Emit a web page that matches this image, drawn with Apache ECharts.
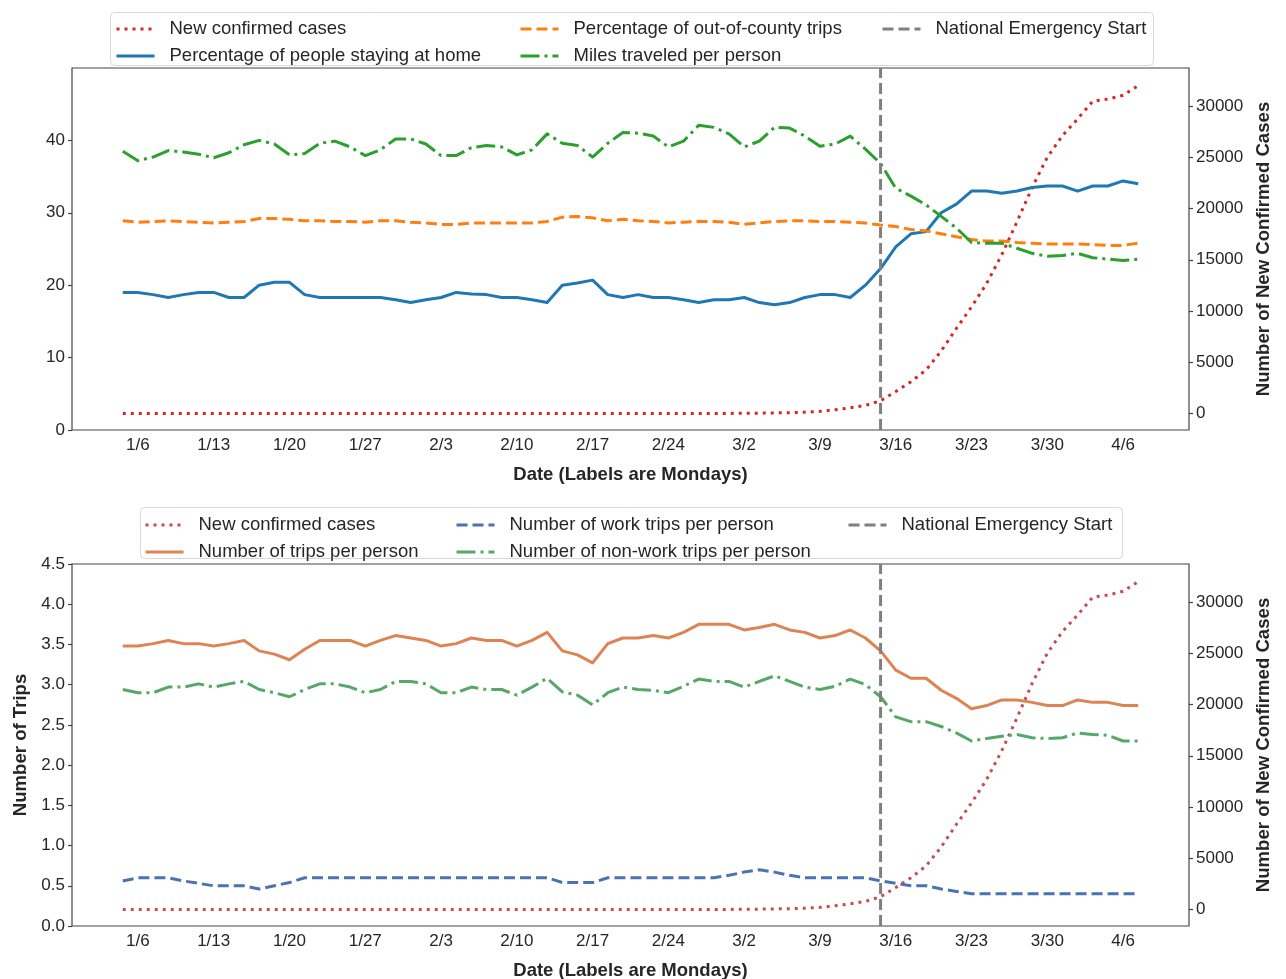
<!DOCTYPE html>
<html>
<head>
<meta charset="utf-8">
<script src="https://cdn.jsdelivr.net/npm/echarts@6/dist/echarts.min.js"></script>
<style>
html,body{margin:0;padding:0;background:#fff;}
#c1{position:absolute;left:0;top:0;width:1286px;height:490px;}
#c2{position:absolute;left:0;top:490px;width:1286px;height:489px;}
</style>
</head>
<body>
<div id="c1"></div>
<div id="c2"></div>
<script>
// ---- Data (weekdays, 1/3/2020 - 4/7/2020) ----
const dates = ['1/3','1/6','1/7','1/8','1/9','1/10','1/13','1/14','1/15','1/16','1/17','1/20','1/21','1/22','1/23','1/24','1/27','1/28','1/29','1/30','1/31','2/3','2/4','2/5','2/6','2/7','2/10','2/11','2/12','2/13','2/14','2/17','2/18','2/19','2/20','2/21','2/24','2/25','2/26','2/27','2/28','3/2','3/3','3/4','3/5','3/6','3/9','3/10','3/11','3/12','3/13','3/16','3/17','3/18','3/19','3/20','3/23','3/24','3/25','3/26','3/27','3/30','3/31','4/1','4/2','4/3','4/6','4/7'];
const mondayLabels = ['1/6','1/13','1/20','1/27','2/3','2/10','2/17','2/24','3/2','3/9','3/16','3/23','3/30','4/6'];
const emergencyDate = '3/13';

const newCases = [0,0,0,0,0,0,0,0,0,0, 0,0,0,0,0,0,0,0,0,0, 0,0,0,0,0,0,0,0,0,0, 0,0,0,0,0,0,0,0,10,15,
  20,30,45,65,90,140,220,370,560,800, 1250,2150,3100,4250,6100,8300,10400,12700,15500,18700,
  22050,25000,27100,28730,30470,30670,31040,31980];

const stayHome = [19.0,19.0,18.7,18.3,18.7,19.0,19.0,18.3,18.3,20.0,
  20.4,20.4,18.7,18.3,18.3,18.3,18.3,18.3,18.0,17.6,
  18.0,18.3,19.0,18.8,18.7,18.3,18.3,18.0,17.6,20.0,
  20.3,20.7,18.7,18.3,18.7,18.3,18.3,18.0,17.6,18.0,
  18.0,18.3,17.6,17.3,17.6,18.3,18.7,18.7,18.3,20.0,
  22.3,25.3,27.1,27.4,30.0,31.2,33.0,33.0,32.7,33.0,
  33.5,33.7,33.7,33.0,33.7,33.7,34.4,34.0];

const outCounty = [28.9,28.7,28.8,28.9,28.8,28.7,28.6,28.7,28.8,29.2,
  29.2,29.1,28.9,28.9,28.8,28.8,28.7,28.9,28.9,28.7,
  28.6,28.4,28.4,28.6,28.6,28.6,28.6,28.6,28.8,29.4,
  29.5,29.3,28.9,29.1,28.9,28.8,28.6,28.7,28.8,28.8,
  28.7,28.4,28.6,28.8,28.9,28.9,28.8,28.8,28.7,28.6,
  28.3,28.1,27.7,27.5,27.1,26.7,26.3,26.1,26.1,25.9,
  25.8,25.7,25.7,25.7,25.6,25.5,25.5,25.8];

const milesPerPerson = [38.5,37.2,37.7,38.6,38.4,38.1,37.6,38.3,39.4,40.0,
  39.5,38.0,38.2,39.6,39.9,39.1,37.9,38.7,40.2,40.2,
  39.5,37.9,37.9,39.0,39.3,39.1,38.0,38.7,40.9,39.6,
  39.3,37.7,39.6,41.1,41.0,40.6,39.1,39.9,42.1,41.8,
  40.9,39.1,39.9,41.8,41.7,40.6,39.2,39.5,40.6,38.8,
  36.8,33.4,32.3,31.1,29.5,27.9,25.9,25.8,25.8,25.1,
  24.4,24.0,24.1,24.4,23.8,23.6,23.4,23.6];

const tripsPerPerson = [3.48,3.48,3.51,3.55,3.51,3.51,3.48,3.51,3.55,3.42,
  3.38,3.31,3.44,3.55,3.55,3.55,3.48,3.55,3.61,3.58,
  3.55,3.48,3.51,3.58,3.55,3.55,3.48,3.55,3.65,3.42,
  3.37,3.27,3.51,3.58,3.58,3.61,3.58,3.65,3.75,3.75,
  3.75,3.68,3.71,3.75,3.68,3.65,3.58,3.61,3.68,3.58,
  3.42,3.18,3.08,3.08,2.93,2.83,2.70,2.74,2.81,2.81,
  2.78,2.74,2.74,2.81,2.78,2.78,2.74,2.74];

const workTrips = [0.56,0.60,0.60,0.60,0.56,0.53,0.50,0.50,0.50,0.46,
  0.50,0.54,0.60,0.60,0.60,0.60,0.60,0.60,0.60,0.60,
  0.60,0.60,0.60,0.60,0.60,0.60,0.60,0.60,0.60,0.54,
  0.54,0.54,0.60,0.60,0.60,0.60,0.60,0.60,0.60,0.60,
  0.63,0.67,0.70,0.67,0.63,0.60,0.60,0.60,0.60,0.60,
  0.56,0.53,0.50,0.50,0.46,0.43,0.40,0.40,0.40,0.40,
  0.40,0.40,0.40,0.40,0.40,0.40,0.40,0.40];

const nonWorkTrips = [2.94,2.90,2.90,2.97,2.97,3.01,2.97,3.01,3.04,2.94,
  2.90,2.85,2.94,3.01,3.01,2.97,2.90,2.94,3.04,3.04,
  3.01,2.90,2.90,2.97,2.94,2.94,2.87,2.97,3.08,2.91,
  2.87,2.75,2.90,2.97,2.94,2.93,2.90,2.98,3.07,3.04,
  3.04,2.97,3.04,3.11,3.04,2.97,2.94,2.98,3.07,3.00,
  2.85,2.60,2.54,2.54,2.48,2.40,2.30,2.33,2.36,2.38,
  2.34,2.33,2.34,2.40,2.38,2.37,2.30,2.30];

const casesTicks = [0,5000,10000,15000,20000,25000,30000];
const pctTicks = [0,10,20,30,40];
const tripTicks = [0,0.5,1,1.5,2,2.5,3,3.5,4,4.5];

// ---- helpers ----
const FONT = "'Liberation Sans', Arial, Helvetica, sans-serif";
const TXT = '#262626';
const SPINE = '#444';
const mondayIdx = mondayLabels.map(l => dates.indexOf(l));
const emIdx = dates.indexOf(emergencyDate);
const pairs = arr => arr.map((v, i) => [i, v]);
const DOT = [3, 5], DASH = [11, 5], DASHDOT = [19, 5, 3, 5];

function lineSeries(name, data, color, dash, yAxisIndex) {
  return {
    name, type: 'line', data: pairs(data), yAxisIndex,
    symbol: 'none', smooth: false, z: 3,
    lineStyle: { color, width: 3, type: dash, cap: 'butt', join: 'round' },
    itemStyle: { color }
  };
}
function vline(name, top, color) {
  return {
    name, type: 'line', yAxisIndex: 0, symbol: 'none', z: 5,
    data: [[emIdx, 0], [emIdx, top]],
    lineStyle: { color, width: 3, type: DASH, cap: 'butt' },
    itemStyle: { color }
  };
}
function legendCol(left, top, names) {
  return {
    left, top, orient: 'vertical', data: names, padding: 0,
    itemWidth: 38, itemHeight: 14, itemGap: 7, selectedMode: false,
    lineStyle: { width: 3 },
    itemStyle: { color: 'rgba(0,0,0,0)', borderWidth: 0, opacity: 0 },
    textStyle: { fontSize: 18.5, color: TXT, fontFamily: FONT, lineHeight: 20, padding: [0, 0, 0, 10] }
  };
}
function xAxisCfg() {
  return {
    type: 'value', min: -3.35, max: 70.35,
    name: 'Date (Labels are Mondays)', nameLocation: 'middle', nameGap: 35,
    nameTextStyle: { fontSize: 18.5, fontWeight: 'bold', color: TXT, fontFamily: FONT },
    axisLine: { show: false, onZero: false }, axisTick: { show: false }, splitLine: { show: false },
    axisLabel: { customValues: mondayIdx, formatter: v => dates[Math.round(v)],
      fontSize: 17, color: TXT, fontFamily: FONT, margin: 7 }
  };
}
function yAxisCfg(opts) {
  return Object.assign({
    type: 'value', splitLine: { show: false },
    axisLine: { show: false, onZero: false },
    axisTick: { show: true, length: 4, customValues: opts.ticks, lineStyle: { color: SPINE, width: 1.2 } },
    axisLabel: { customValues: opts.ticks, formatter: opts.fmt || (v => String(v)),
      fontSize: 17, color: TXT, fontFamily: FONT, margin: 7 },
    nameLocation: 'middle',
    nameTextStyle: { fontSize: 18.6, fontWeight: 'bold', color: TXT, fontFamily: FONT }
  }, opts.extra);
}
function legendBox(x, y, w, h) {
  return { type: 'rect', left: x, top: y, z: 0, silent: true,
    shape: { width: w, height: h, r: 4 },
    style: { fill: '#fff', stroke: '#d8d8d8', lineWidth: 1 } };
}
function gridCfg(top) {
  return { left: 72, right: 97, top, height: 362, show: true, borderColor: SPINE, borderWidth: 1.2,
    backgroundColor: 'transparent', containLabel: false, outerBoundsMode: 'none' };
}

// ---- top chart ----
const c1 = echarts.init(document.getElementById('c1'));
const topColors = { red: '#d62728', blue: '#1f77b4', orange: '#ff7f0e', green: '#2ca02c', gray: '#7f7f7f' };
c1.setOption({
  animation: false,
  backgroundColor: '#fff',
  grid: gridCfg(68),
  graphic: [legendBox(110, 12, 1043, 53)],
  legend: [
    legendCol(115, 19, ['New confirmed cases', 'Percentage of people staying at home']),
    legendCol(519, 19, ['Percentage of out-of-county trips', 'Miles traveled per person']),
    legendCol(881, 19, ['National Emergency Start'])
  ],
  xAxis: xAxisCfg(),
  yAxis: [
    yAxisCfg({ ticks: pctTicks, extra: { min: 0, max: 50, position: 'left' } }),
    yAxisCfg({ ticks: casesTicks, extra: { min: -1600, max: 33700, position: 'right',
      name: 'Number of New Confirmed Cases', nameGap: 65 } })
  ],
  series: [
    lineSeries('New confirmed cases', newCases, topColors.red, DOT, 1),
    lineSeries('Percentage of people staying at home', stayHome, topColors.blue, 'solid', 0),
    lineSeries('Percentage of out-of-county trips', outCounty, topColors.orange, DASH, 0),
    lineSeries('Miles traveled per person', milesPerPerson, topColors.green, DASHDOT, 0),
    vline('National Emergency Start', 50, topColors.gray)
  ]
});

// ---- bottom chart ----
const c2 = echarts.init(document.getElementById('c2'));
const botColors = { red: '#c44e52', blue: '#4c72b0', orange: '#dd8452', green: '#55a868', gray: '#7f7f7f' };
c2.setOption({
  animation: false,
  backgroundColor: '#fff',
  grid: gridCfg(74),
  graphic: [legendBox(140, 17, 982, 51)],
  legend: [
    legendCol(144, 25, ['New confirmed cases', 'Number of trips per person']),
    legendCol(455, 25, ['Number of work trips per person', 'Number of non-work trips per person']),
    legendCol(847, 25, ['National Emergency Start'])
  ],
  xAxis: xAxisCfg(),
  yAxis: [
    yAxisCfg({ ticks: tripTicks, fmt: v => v.toFixed(1), extra: { min: 0, max: 4.5, position: 'left',
      name: 'Number of Trips', nameGap: 41 } }),
    yAxisCfg({ ticks: casesTicks, extra: { min: -1600, max: 33700, position: 'right',
      name: 'Number of New Confirmed Cases', nameGap: 65 } })
  ],
  series: [
    lineSeries('New confirmed cases', newCases, botColors.red, DOT, 1),
    lineSeries('Number of trips per person', tripsPerPerson, botColors.orange, 'solid', 0),
    lineSeries('Number of work trips per person', workTrips, botColors.blue, DASH, 0),
    lineSeries('Number of non-work trips per person', nonWorkTrips, botColors.green, DASHDOT, 0),
    vline('National Emergency Start', 4.5, botColors.gray)
  ]
});
</script>
</body>
</html>
